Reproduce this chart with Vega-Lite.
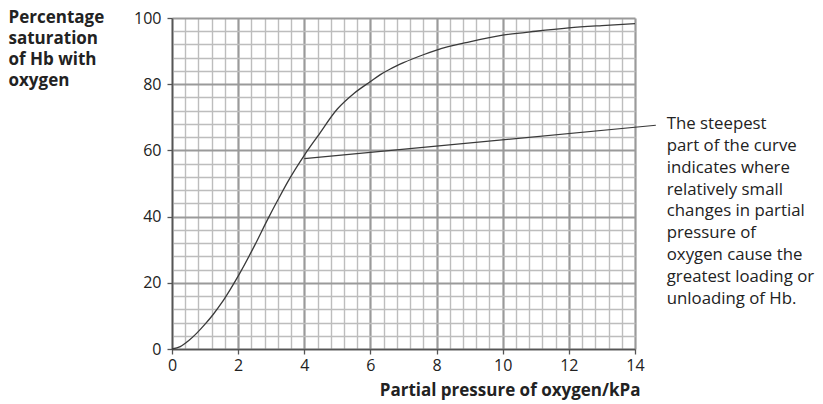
{
  "$schema": "https://vega.github.io/schema/vega-lite/v6.json",
  "width": 463,
  "height": 331,
  "autosize": "none",
  "padding": {"left": 172, "top": 18, "right": 188, "bottom": 55},
  "background": "white",
  "config": {"view": {"stroke": null}, "font": "Open Sans"},
  "encoding": {
    "x": {
      "field": "p", "type": "quantitative",
      "scale": {"domain": [0, 14], "nice": false, "zero": false},
      "axis": {
        "values": [0,0.4,0.8,1.2,1.6,2,2.4,2.8,3.2,3.6,4,4.4,4.8,5.2,5.6,6,6.4,6.8,7.2,7.6,8,8.4,8.8,9.2,9.6,10,10.4,10.8,11.2,11.6,12,12.4,12.8,13.2,13.6,14],
        "labelExpr": "datum.value % 2 === 0 ? '' + datum.value : ''",
        "grid": true,
        "gridColor": {"condition": {"test": "datum.value % 2 === 0", "value": "#9a9a9a"}, "value": "#bdbdbd"},
        "gridWidth": {"condition": {"test": "datum.value % 2 === 0", "value": 2.2}, "value": 1.4},
        "tickOpacity": {"condition": {"test": "datum.value % 2 === 0", "value": 1}, "value": 0},
        "tickColor": "#555", "tickSize": 5, "tickWidth": 1.3,
        "domainColor": "#555", "domainWidth": 1.5,
        "labelFontSize": 16, "labelColor": "#222", "labelPadding": 3, "labelFlush": false, "labelOverlap": false,
        "title": "Partial pressure of oxygen/kPa",
        "titleFontSize": 17, "titleFontWeight": "bold", "titleColor": "#222",
        "titleAlign": "right", "titleBaseline": "alphabetic", "titleX": 468, "titleY": 46
      }
    },
    "y": {
      "field": "s", "type": "quantitative",
      "scale": {"domain": [0, 100], "nice": false},
      "axis": {
        "values": [0,4,8,12,16,20,24,28,32,36,40,44,48,52,56,60,64,68,72,76,80,84,88,92,96,100],
        "labelExpr": "datum.value % 20 === 0 ? '' + datum.value : ''",
        "grid": true,
        "gridColor": {"condition": {"test": "datum.value % 20 === 0", "value": "#9a9a9a"}, "value": "#bdbdbd"},
        "gridWidth": {"condition": {"test": "datum.value % 20 === 0", "value": 2.2}, "value": 1.4},
        "tickOpacity": {"condition": {"test": "datum.value % 20 === 0", "value": 1}, "value": 0},
        "tickColor": "#555", "tickSize": 5, "tickWidth": 1.3,
        "domainColor": "#555", "domainWidth": 1.5,
        "labelFontSize": 16, "labelColor": "#222", "labelPadding": 6, "labelFlush": false, "labelOverlap": false,
        "title": ["Percentage", "saturation", "of Hb with", "oxygen"],
        "titleFontSize": 17, "titleFontWeight": "bold", "titleColor": "#222",
        "titleAngle": 0, "titleAlign": "left", "titleBaseline": "top",
        "titleLineHeight": 21, "titleX": -164, "titleY": -9
      }
    }
  },
  "layer": [
    {
      "data": {"values": [
        {"p": 0, "s": 0}, {"p": 0.25, "s": 0.7}, {"p": 0.5, "s": 2.5}, {"p": 0.75, "s": 4.8},
        {"p": 1, "s": 7.5}, {"p": 1.25, "s": 10.5}, {"p": 1.5, "s": 13.9}, {"p": 1.75, "s": 17.8},
        {"p": 2, "s": 22}, {"p": 2.5, "s": 31.3}, {"p": 2.9, "s": 39.3}, {"p": 3.2, "s": 45},
        {"p": 3.5, "s": 50.5}, {"p": 4, "s": 58.5}, {"p": 4.4, "s": 64.2}, {"p": 5, "s": 72.5},
        {"p": 5.5, "s": 77.2}, {"p": 6, "s": 80.8}, {"p": 6.3, "s": 82.9}, {"p": 6.6, "s": 84.6},
        {"p": 7, "s": 86.5}, {"p": 7.6, "s": 88.9}, {"p": 8, "s": 90.3}, {"p": 9, "s": 92.8},
        {"p": 10, "s": 94.8}, {"p": 11, "s": 96}, {"p": 12, "s": 97}, {"p": 13, "s": 97.7},
        {"p": 14, "s": 98.3}
      ]},
      "mark": {"type": "line", "interpolate": "monotone", "color": "#3a3a3a", "strokeWidth": 1.3}
    },
    {
      "data": {"values": [{"p": 4, "s": 57.5}, {"p": 14.63, "s": 67.6}]},
      "mark": {"type": "line", "color": "#3a3a3a", "strokeWidth": 1.2, "clip": false}
    },
    {
      "data": {"values": [{"p": 14.96, "s": 66.4, "t": ["The steepest", "part of the curve", "indicates where", "relatively small", "changes in partial", "pressure of", "oxygen cause the", "greatest loading or", "unloading of Hb."]}]},
      "mark": {"type": "text", "align": "left", "baseline": "alphabetic", "fontSize": 16.8, "lineHeight": 21.8, "color": "#222", "font": "Open Sans"},
      "encoding": {"text": {"field": "t"}}
    }
  ]
}
